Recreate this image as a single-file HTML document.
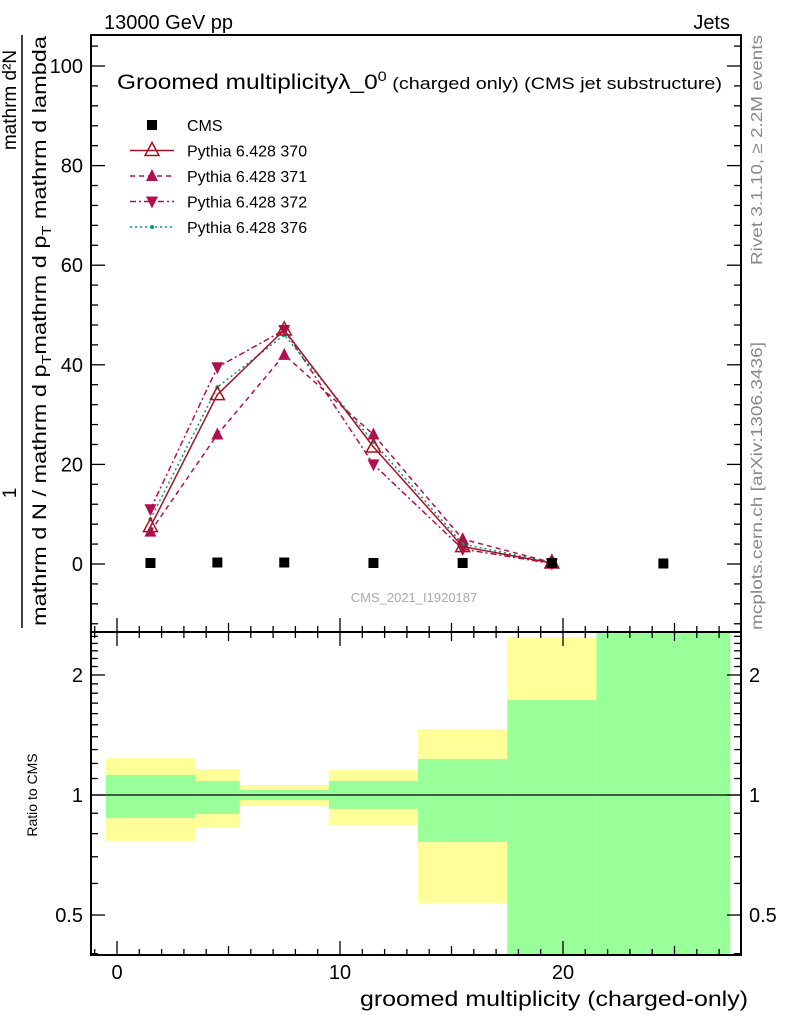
<!DOCTYPE html>
<html><head><meta charset="utf-8"><style>
body{margin:0;background:#fff}
svg{display:block;font-family:"Liberation Sans",sans-serif}
</style></head><body>
<svg id="chart" width="786" height="1024" viewBox="0 0 786 1024">
<text x="104" y="29" font-size="20">13000 GeV pp</text>
<text x="730" y="29" font-size="20" text-anchor="end">Jets</text>
<g id="ratio"></g>
<g id="main"></g>
<g id="axes"></g>
<text x="117" y="89" font-size="21" textLength="605" lengthAdjust="spacingAndGlyphs">Groomed multiplicityλ_0<tspan dy="-8" font-size="14">0</tspan><tspan dy="8" font-size="17"> (charged only) (CMS jet substructure)</tspan></text>
<text x="414" y="602" font-size="13" fill="#aaa" text-anchor="middle">CMS_2021_I1920187</text>
<g font-size="19">
<line x1="22" y1="35" x2="22" y2="628" stroke="#000" stroke-width="1.5"/>
<text transform="translate(16,493) rotate(-90)" text-anchor="middle">1</text>
<text transform="translate(16,100) rotate(-90)" text-anchor="middle">mathrm d²N</text>
<text transform="translate(46,626) rotate(-90)" textLength="590" lengthAdjust="spacingAndGlyphs">mathrm d N / mathrm d p<tspan font-size="13" dy="5">T</tspan><tspan dy="-5">mathrm d p</tspan><tspan font-size="13" dy="5">T</tspan><tspan dy="-5"> mathrm d lambda</tspan></text>
</g>
<text transform="translate(37,795) rotate(-90)" font-size="14" text-anchor="middle">Ratio to CMS</text>
<text x="360" y="1006" font-size="21" textLength="388" lengthAdjust="spacingAndGlyphs">groomed multiplicity (charged-only)</text>
<text transform="translate(762,265) rotate(-90)" font-size="16" fill="#888" textLength="230" lengthAdjust="spacingAndGlyphs">Rivet 3.1.10, ≥ 2.2M events</text>
<text transform="translate(762,630) rotate(-90)" font-size="16" fill="#888" textLength="288" lengthAdjust="spacingAndGlyphs">mcplots.cern.ch [arXiv:1306.3436]</text>
<g id="legend"></g>
</svg>
<script>
const xCenters=[1.5,4.5,7.5,11.5,15.5,19.5,24.5];
const cmsVals=[0.2,0.3,0.3,0.2,0.2,0.2,0.1];
const s370=[7.5,34,47,23.5,3.5,0.2];
const s371=[6.5,26,42,26,5,0.3];
const s372=[11,39.5,47,20,3,0.1];
const s376=[9,35.5,46,24.5,4,0.3];
const binEdges=[-0.5,3.5,5.5,9.5,13.5,17.5,21.5,27.5];
const yellowHi=[1.238,1.162,1.059,1.155,1.464,2.49,3];
const yellowLo=[0.767,0.831,0.938,0.841,0.536,0.3,0.3];
const greenHi=[1.123,1.084,1.029,1.084,1.231,1.73,3];
const greenLo=[0.876,0.896,0.971,0.923,0.762,0.3,0.3];
const yTicks=[0,20,40,60,80,100];
const xTicks=[0,10,20];
const rTicks=[0.5,1,2];

const NS="http://www.w3.org/2000/svg";
const L=91,R=741,T=35,MB=632,RB=955;
const X=v=>117+(v)*22.3;
const Y=v=>564-v*4.98;
const RY=v=>795-Math.log10(v)*398.7;
function mk(p,tag,a){const e=document.createElementNS(NS,tag);for(const k in a)e.setAttribute(k,a[k]);p.appendChild(e);return e;}
const ratio=document.getElementById('ratio'),main=document.getElementById('main'),axes=document.getElementById('axes'),leg=document.getElementById('legend');
const clampR=v=>Math.max(T,Math.min(RB,RY(v)));
for(let i=0;i<binEdges.length-1;i++){
  const x0=X(binEdges[i]),x1=X(binEdges[i+1]);
  const yb=Math.max(MB,clampR(yellowHi[i])),yb2=Math.min(RB,clampR(yellowLo[i]));
  let e=mk(ratio,'rect',{x:x0,y:yb,width:x1-x0,height:yb2-yb,fill:'#ffff99'});
  
  
  const g1=Math.max(MB,clampR(greenHi[i])),g2=Math.min(RB,clampR(greenLo[i]));
  e=mk(ratio,'rect',{x:x0,y:g1,width:x1-x0,height:g2-g1,fill:'#99ff99'});
  
  
}
mk(ratio,'line',{x1:L,x2:R,y1:RY(1),y2:RY(1),stroke:'#000','stroke-width':1.3});
mk(axes,'rect',{x:L,y:T,width:R-L,height:MB-T,fill:'none',stroke:'#000','stroke-width':2});
mk(axes,'rect',{x:L,y:MB,width:R-L,height:RB-MB,fill:'none',stroke:'#000','stroke-width':2});
for(let v=-1;v<=27;v++){
  const maj=v%10===0, len=maj?14:(v%5===0?9:6);
  [MB,RB].forEach(yb=>{mk(axes,'line',{x1:X(v),x2:X(v),y1:yb,y2:yb-len,stroke:'#000','stroke-width':1.3});});
  mk(axes,'line',{x1:X(v),x2:X(v),y1:MB,y2:MB+len,stroke:'#000','stroke-width':1.3});
}
xTicks.forEach(v=>{const t=mk(axes,'text',{x:X(v),y:979,'font-size':20,'text-anchor':'middle'});t.textContent=v;

});
for(let v=-12;v<=104;v+=4){
  const maj=v%20===0,len=maj?14:7;
  mk(axes,'line',{x1:L,x2:L+len,y1:Y(v),y2:Y(v),stroke:'#000','stroke-width':1.3});
  mk(axes,'line',{x1:R,x2:R-len,y1:Y(v),y2:Y(v),stroke:'#000','stroke-width':1.3});
}
yTicks.forEach(v=>{const t=mk(axes,'text',{x:83,y:Y(v)+7,'font-size':20,'text-anchor':'end'});t.textContent=v;

});
const rminor=[0.4,0.5,0.6,0.7,0.8,0.9,1,1.1,1.2,1.3,1.4,1.5,1.6,1.7,1.8,1.9,2,2.1,2.2,2.3,2.4,2.5];
rminor.forEach(v=>{const maj=rTicks.includes(v),len=maj?14:7;
  mk(axes,'line',{x1:L,x2:L+len,y1:RY(v),y2:RY(v),stroke:'#000','stroke-width':1.3});
  mk(axes,'line',{x1:R,x2:R-len,y1:RY(v),y2:RY(v),stroke:'#000','stroke-width':1.3});});
rTicks.forEach(v=>{[[83,'end'],[749,'start']].forEach(([x,a])=>{const t=mk(axes,'text',{x:x,y:RY(v)+7,'font-size':20,'text-anchor':a});t.textContent=v;

});});
const series=[
 {d:s371,c:'#b0104f',dash:'5,4',m:'up'},
 {d:s372,c:'#b0104f',dash:'6,3,2,3',m:'down'},
 {d:s376,c:'#009977',dash:'2,3',m:'dot'},
 {d:s370,c:'#aa1122',dash:'',m:'open'}];
function marker(g,m,x,y,c){
  if(m==='up')mk(g,'polygon',{points:`${x},${y-7} ${x-6},${y+5} ${x+6},${y+5}`,fill:c});
  else if(m==='down')mk(g,'polygon',{points:`${x},${y+7} ${x-6},${y-5} ${x+6},${y-5}`,fill:c});
  else if(m==='open')mk(g,'polygon',{points:`${x},${y-8} ${x-7},${y+5} ${x+7},${y+5}`,fill:'none',stroke:c,'stroke-width':1.5});
  else mk(g,'circle',{cx:x,cy:y,r:2,fill:c});
}
series.forEach(s=>{
  const g=mk(main,'g',{});
  
  
  const pts=s.d.map((v,i)=>X(xCenters[i])+','+Y(v)).join(' ');
  mk(g,'polyline',{points:pts,fill:'none',stroke:s.c,'stroke-width':1.5,'stroke-dasharray':s.dash});
  s.d.forEach((v,i)=>marker(g,s.m,X(xCenters[i]),Y(v),s.c));
});
cmsVals.forEach((v,i)=>{const e=mk(main,'rect',{x:X(xCenters[i])-5,y:Y(v)-5,width:10,height:10,fill:'#000'});

});
const legItems=[['CMS','cms'],['Pythia 6.428 370','open'],['Pythia 6.428 371','up'],['Pythia 6.428 372','down'],['Pythia 6.428 376','dot']];
const legCol={cms:'#000',open:'#aa1122',up:'#b0104f',down:'#b0104f',dot:'#009977'};
const legDash={cms:'',open:'',up:'5,4',down:'6,3,2,3',dot:'2,3'};
legItems.forEach(([lab,m],i)=>{
  const y=125+i*25.5;
  const g=mk(leg,'g',{});
  
  
  if(m==='cms')mk(g,'rect',{x:147,y:y-5,width:10,height:10,fill:'#000'});
  else{mk(g,'line',{x1:130,x2:174,y1:y,y2:y,stroke:legCol[m],'stroke-width':1.5,'stroke-dasharray':legDash[m]});marker(g,m,152,y,legCol[m]);}
  const t=mk(g,'text',{x:187,y:y+6,'font-size':16});t.textContent=lab;
});
</script>
</body></html>
